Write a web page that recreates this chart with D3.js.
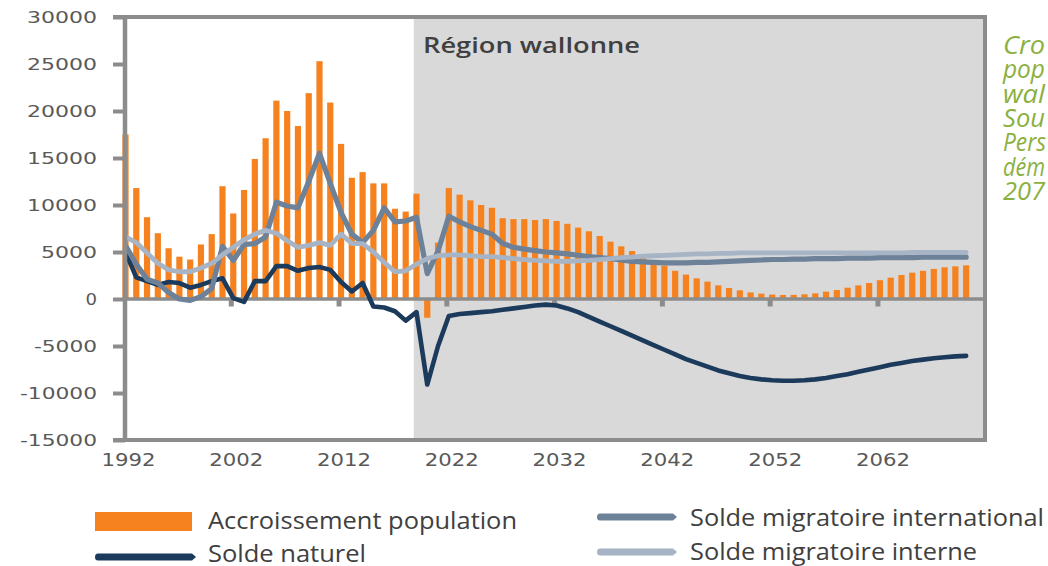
<!DOCTYPE html>
<html>
<head>
<meta charset="utf-8">
<script src="https://cdn.jsdelivr.net/npm/d3@7"></script>
<style>
  body { margin: 0; background: #fff; }
  svg { display: block; }
</style>
</head>
<body>
<div id="viz"></div>
<script>
// data, one value per year from 1992 to 2070
var firstYear = 1992;
var accroissement = [
  17500, 11800, 8700, 7000, 5400, 4500, 4200, 5800, 6900, 12000,
  9100, 11600, 14900, 17100, 21100, 20000, 18400, 21900, 25300, 20900,
  16500, 12900, 13500, 12300, 12300, 9600, 9300, 11200, -2000, 6000,
  11800, 11100, 10500, 10000, 9700, 8600, 8500, 8500, 8400, 8500,
  8300, 8000, 7600, 7200, 6700, 6100, 5600, 5100, 4550, 4050,
  3550, 3000, 2600, 2200, 1850, 1450, 1170, 920, 700, 570,
  470, 430, 440, 500, 600, 780, 960, 1200, 1450, 1700,
  2000, 2270, 2550, 2800, 3000, 3200, 3370, 3470, 3580
];
var soldeNaturel = [
  5000, 2300, 1900, 1500, 1800, 1700, 1200, 1500, 1900, 2200,
  100, -300, 1900, 1900, 3500, 3500, 3000, 3300, 3400, 3100,
  1800, 800, 1700, -800, -900, -1300, -2300, -1400, -9100, -5000,
  -1800, -1600, -1500, -1400, -1300, -1150, -1000, -850, -700, -600,
  -700, -1000, -1400, -1900, -2400, -2900, -3400, -3900, -4400, -4900,
  -5400, -5900, -6400, -6800, -7200, -7600, -7900, -8200, -8400, -8550,
  -8650, -8700, -8700, -8650, -8550, -8400, -8200, -8000, -7750, -7500,
  -7250, -7000, -6800, -6600, -6450, -6300, -6200, -6100, -6050
];
var soldeInternational = [
  5700, 3700, 2100, 1700, 700, 0, -150, 250, 1100, 5600,
  4100, 5800, 5900, 6600, 10300, 9900, 9700, 12500, 15500, 12300,
  9200, 6900, 6000, 7300, 9700, 8200, 8300, 8700, 2700, 5100,
  8800, 8200, 7700, 7300, 6900, 5900, 5500, 5300, 5150, 5000,
  4900, 4800, 4650, 4500, 4400, 4300, 4150, 4000, 3950, 3900,
  3850, 3850, 3850, 3900, 3900, 3950, 4000, 4050, 4100, 4150,
  4200, 4200, 4250, 4250, 4300, 4300, 4300, 4350, 4350, 4350,
  4400, 4400, 4400, 4400, 4450, 4450, 4450, 4450, 4450
];
var soldeInterne = [
  6600, 6000, 4900, 3800, 3100, 2900, 2900, 3300, 3800, 4700,
  5500, 6300, 6900, 7300, 7000, 6200, 5500, 5700, 6000, 5700,
  6900, 5900, 5900, 5000, 3900, 2900, 3000, 3700, 4300, 4600,
  4700, 4700, 4600, 4500, 4500, 4400, 4300, 4200, 4100, 4050,
  4000, 4000, 4050, 4100, 4200, 4300, 4400, 4450, 4550, 4600,
  4650, 4700, 4750, 4800, 4800, 4850, 4850, 4900, 4900, 4900,
  4900, 4900, 4900, 4900, 4900, 4900, 4900, 4900, 4900, 4900,
  4900, 4900, 4900, 4950, 4950, 4950, 4950, 4950, 4950
];
var yTicks = [-15000, -10000, -5000, 0, 5000, 10000, 15000, 20000, 25000, 30000];
var xTicks = [1992, 2002, 2012, 2022, 2032, 2042, 2052, 2062];
var projectionStart = 2018.75;
var regionLabel = "Région wallonne";
var legendItems = ["Accroissement population", "Solde naturel",
                   "Solde migratoire international", "Solde migratoire interne"];
// caption on the right, only its first letters are inside the picture
var sideText = ["Cro", "pop", "wal", "Sou", "Pers", "dém", "207"];

var years = accroissement.map(function(d, i) { return firstYear + i; });

// colours
var orange = "#f5821f", navy = "#1c3a5b", slate = "#6d8198", light = "#a6b4c5",
    frame = "#8c8c8c", shade = "#d9d9d9", textCol = "#595959";

var svg = d3.select("#viz")
  .append("svg")
  .attr("width", 1048)
  .attr("height", 566);

// plot box
var pLeft = 125, pRight = 985, pTop = 17, pBottom = 440;

var x = d3.scaleLinear()
  .domain([1992, 2071.75])
  .range([pLeft + 0.5, pRight]);

var y = d3.scaleLinear()
  .domain([-15000, 30000])
  .range([pBottom, pTop]);

// projection shading
svg.append("rect")
  .attr("x", x(projectionStart))
  .attr("y", pTop)
  .attr("width", pRight - x(projectionStart))
  .attr("height", pBottom - pTop)
  .attr("fill", shade);

// bars
svg.append("g").selectAll("rect")
  .data(years)
  .enter().append("rect")
  .attr("x", function(d) { return x(d) - 3.1; })
  .attr("width", 6.2)
  .attr("y", function(d, i) { return y(Math.max(0, accroissement[i])); })
  .attr("height", function(d, i) { return Math.abs(y(accroissement[i]) - y(0)); })
  .attr("fill", orange);

// zero line and small ticks on it
svg.append("line")
  .attr("x1", pLeft).attr("x2", pRight)
  .attr("y1", y(0)).attr("y2", y(0))
  .attr("stroke", frame).attr("stroke-width", 3.5);

var zeroAxis = svg.append("g")
  .attr("transform", "translate(-2.5," + y(0) + ")")
  .call(d3.axisBottom(x).tickValues(xTicks.slice(1)).tickSize(7.5).tickFormat(""));
zeroAxis.select(".domain").remove();
zeroAxis.selectAll("line").attr("stroke", frame).attr("stroke-width", 5);

// lines
var line = d3.line()
  .x(function(d) { return x(d.year); })
  .y(function(d) { return y(d.value); });

[[soldeNaturel, navy, 4.6], [soldeInternational, slate, 5.2], [soldeInterne, light, 4.8]]
  .forEach(function(s) {
    var pts = s[0].map(function(v, i) { return {year: years[i], value: v}; });
    svg.append("path").datum(pts)
      .attr("fill", "none")
      .attr("stroke", s[1])
      .attr("stroke-width", s[2])
      .attr("stroke-linejoin", "round")
      .attr("stroke-linecap", "round")
      .attr("d", line);
  });

// frame
svg.append("path")
  .attr("d", "M113," + pTop + "H" + pRight + "V" + pBottom + "H113")
  .attr("fill", "none").attr("stroke", frame).attr("stroke-width", 4);
svg.append("line")
  .attr("x1", pLeft).attr("x2", pLeft).attr("y1", pTop - 2).attr("y2", pBottom + 2)
  .attr("stroke", frame).attr("stroke-width", 4.5);

// Y axis
var yAxis = svg.append("g")
  .attr("transform", "translate(" + pLeft + ",0)")
  .call(d3.axisLeft(y).tickValues(yTicks).tickSize(12).tickPadding(16)
        .tickFormat(function(d) { return String(d); }));
yAxis.select(".domain").remove();
yAxis.selectAll("line").attr("stroke", frame).attr("stroke-width", 4);
yAxis.selectAll("text")
  .attr("fill", textCol)
  .style("font", "16px 'DejaVu Sans'")
  .attr("textLength", function(d) {
      var s = String(d);
      return s === "0" ? 11.5 : s.replace("-", "").length * 14 + (d < 0 ? 7 : 0);
  })
  .attr("lengthAdjust", "spacingAndGlyphs");

// X labels
var xAxis = svg.append("g")
  .attr("transform", "translate(0," + pBottom + ")")
  .call(d3.axisBottom(x).tickValues(xTicks).tickSize(0).tickPadding(13)
        .tickFormat(function(d) { return String(d); }));
xAxis.select(".domain").remove();
xAxis.selectAll("text")
  .attr("fill", textCol)
  .attr("dx", 2.5)
  .style("font", "18px 'DejaVu Sans'")
  .attr("textLength", 54)
  .attr("lengthAdjust", "spacingAndGlyphs");

// region label
svg.append("text")
  .attr("x", 423).attr("y", 53)
  .attr("fill", "#404040")
  .style("font", "600 21px 'Open Sans'")
  .attr("textLength", 217)
  .attr("lengthAdjust", "spacingAndGlyphs")
  .text(regionLabel);

// side caption
svg.append("g").selectAll("text")
  .data(sideText)
  .enter().append("text")
  .attr("x", 1003)
  .attr("y", function(d, i) { return 54 + i * 24.3; })
  .attr("fill", "#8cb040")
  .style("font", "italic 25px 'Open Sans'")
  .attr("textLength", function(d) { return d.length > 3 ? 43 : 42; })
  .attr("lengthAdjust", "spacingAndGlyphs")
  .text(function(d) { return d; });

// legend
var lg = svg.append("g");
lg.append("rect")
  .attr("x", 95).attr("y", 512).attr("width", 97).attr("height", 19)
  .attr("fill", orange);

function legendKey(x1, x2, yy, col) {
  lg.append("path")
    .attr("d", "M" + (x1 + 3) + "," + (yy - 3.5) + "H" + (x2 - 4) + "L" + x2 + "," + yy +
               "L" + (x2 - 4) + "," + (yy + 3.5) + "H" + (x1 + 3) + "Q" + x1 + "," + (yy + 3.5) +
               " " + x1 + "," + yy + "Q" + x1 + "," + (yy - 3.5) + " " + (x1 + 3) + "," + (yy - 3.5) + "Z")
    .attr("fill", col);
}
legendKey(95, 196, 557, navy);
legendKey(597, 677, 517, slate);
legendKey(597, 677, 552, light);

var legendPos = [[208, 529, 309], [208, 562, 158], [690, 526, 354], [690, 560, 287]];
legendItems.forEach(function(t, i) {
  lg.append("text")
    .attr("x", legendPos[i][0]).attr("y", legendPos[i][1])
    .attr("fill", "#404040")
    .style("font", "24px 'Open Sans'")
    .attr("textLength", legendPos[i][2])
    .attr("lengthAdjust", "spacingAndGlyphs")
    .text(t);
});
</script>
</body>
</html>
